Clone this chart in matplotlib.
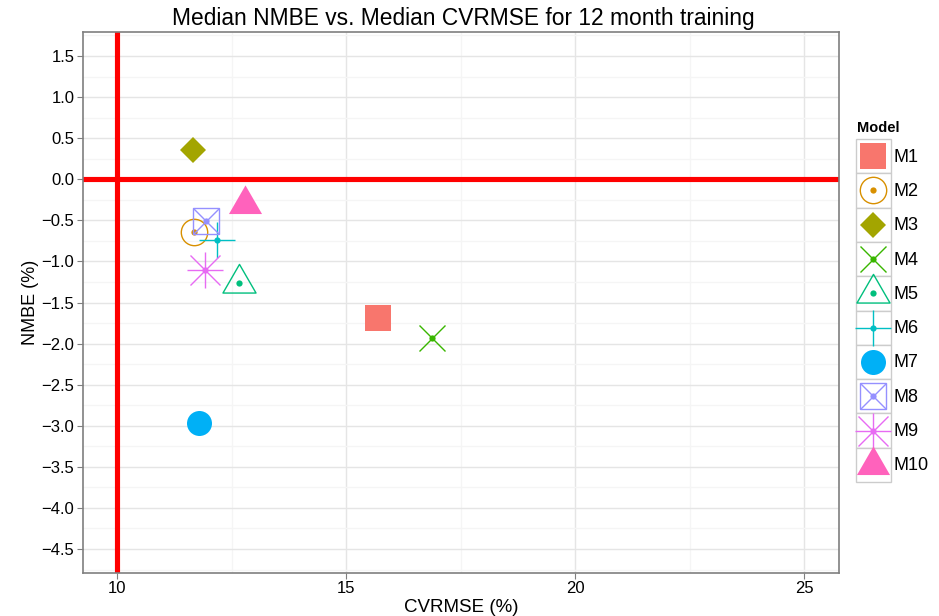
import matplotlib
matplotlib.use("Agg")
import matplotlib.pyplot as plt
from matplotlib.path import Path
import numpy as np

plt.rcParams['font.family'] = ['Liberation Sans', 'DejaVu Sans']

models = ["M1", "M2", "M3", "M4", "M5", "M6", "M7", "M8", "M9", "M10"]
cvrmse = [15.70, 11.68, 11.66, 16.88, 12.66, 12.18, 11.79, 11.94, 11.92, 12.79]
nmbe = [-1.69, -0.645, 0.353, -1.93, -1.265, -0.74, -2.97, -0.51, -1.11, -0.30]
colors = ["#F8766D", "#D89000", "#A3A500", "#39B600", "#00BF7D",
          "#00BFC4", "#00B0F6", "#9590FF", "#E76BF3", "#FF62BC"]
x_ticks = [10, 15, 20, 25]
y_ticks = [1.5, 1.0, 0.5, 0.0, -0.5, -1.0, -1.5, -2.0, -2.5, -3.0, -3.5, -4.0, -4.5]

# equilateral triangle centred on its centroid
_h = np.sqrt(3) / 2
TRI = Path([(0, 2 * _h / 3), (-0.5, -_h / 3), (0.5, -_h / 3), (0, 2 * _h / 3)],
           [Path.MOVETO, Path.LINETO, Path.LINETO, Path.CLOSEPOLY])

# marker spec: (marker, filled, size, dot)
specs = [
    ("s", True, 18.7, False),
    ("o", False, 19, True),
    ("D", True, 13, False),
    ("x", False, 19.4, True),
    (TRI, False, 27.5, True),
    ("+", False, 26.6, True),
    ("o", True, 18, False),
    ("sx", False, 18.7, True),
    ("*", False, 26.6, True),
    (TRI, True, 27.5, False),
]

fig = plt.figure(figsize=(9.39, 6.16), dpi=100)
ax = fig.add_axes([0.0881, 0.0703, 0.8054, 0.8777])
ax.set_xlim(9.251, 25.764)
ax.set_ylim(-4.788, 1.792)

ax.set_xticks(x_ticks)
ax.set_xticks([12.5, 17.5, 22.5], minor=True)
ax.set_yticks(y_ticks)
ax.set_yticks(np.arange(-4.75, 1.8, 0.5), minor=True)
ax.set_yticklabels([f"{v:.1f}".replace("-", "\u2212") for v in y_ticks])
ax.grid(True, which='major', color='#E5E5E5', linewidth=1.0)
ax.grid(True, which='minor', color='#F5F5F5', linewidth=1.0)
ax.set_axisbelow(True)
for s in ax.spines.values():
    s.set_color('#7F7F7F')
    s.set_linewidth(1.2)
ax.tick_params(which='major', length=4, color='#7F7F7F', labelsize=12, labelcolor='black', pad=2)
ax.tick_params(which='minor', length=0)

ax.axvline(10, color='#FF0000', linewidth=3.7, zorder=1.5)
ax.axhline(0, color='#FF0000', linewidth=3.7, zorder=1.5)

def draw_marker(axis, x, y, spec, color, zorder=3):
    m, filled, size, dot = spec
    kw = dict(zorder=zorder, clip_on=False, linestyle='none')
    if isinstance(m, str) and m == "sx":
        axis.plot([x], [y], marker='s', markersize=size, markerfacecolor='none',
                  markeredgecolor=color, markeredgewidth=1.0, **kw)
        axis.plot([x], [y], marker='x', markersize=size, color=color,
                  markeredgewidth=1.0, **kw)
    elif isinstance(m, str) and m == "*":
        axis.plot([x], [y], marker='+', markersize=size, color=color,
                  markeredgewidth=1.0, **kw)
        axis.plot([x], [y], marker='x', markersize=size * 0.8, color=color,
                  markeredgewidth=1.0, **kw)
    elif filled:
        axis.plot([x], [y], marker=m, markersize=size, color=color,
                  markeredgewidth=0, **kw)
    else:
        axis.plot([x], [y], marker=m, markersize=size, markerfacecolor='none',
                  markeredgecolor=color, markeredgewidth=1.0, **kw)
    if dot:
        axis.plot([x], [y], marker='o', markersize=4.5, color=color,
                  markeredgewidth=0, **kw)

for i in range(len(models)):
    draw_marker(ax, cvrmse[i], nmbe[i], specs[i], colors[i])

fig.text(0.4935, 1 - 18 / 616, "Median NMBE vs. Median CVRMSE for 12 month training",
         fontsize=16.4, ha='center', va='center')
ax.set_xlabel("CVRMSE (%)", fontsize=13.5, labelpad=2)
ax.set_ylabel("NMBE (%)", fontsize=13, labelpad=2)

# legend drawn manually
lax = fig.add_axes([0, 0, 1, 1], facecolor='none')
lax.set_xlim(0, 939)
lax.set_ylim(616, 0)
lax.axis('off')
lax.text(857, 128, "Model", fontsize=10.5, fontweight='bold', ha='left', va='center')
key_top = 139
key_h = 34.3
key_left = 856
key_w = 34.5
for i in range(len(models)):
    y0 = key_top + i * key_h
    lax.add_patch(plt.Rectangle((key_left, y0), key_w, key_h, facecolor='white',
                                edgecolor='#CCCCCC', linewidth=1.0, zorder=1))
for i in range(len(models)):
    y0 = key_top + i * key_h
    cx, cy = key_left + key_w / 2, y0 + key_h / 2
    draw_marker(lax, cx, cy, specs[i], colors[i], zorder=3)
    lax.text(key_left + key_w + 3, cy + 1, models[i], fontsize=13, ha='left', va='center')

fig.savefig("out.png", dpi=100)
